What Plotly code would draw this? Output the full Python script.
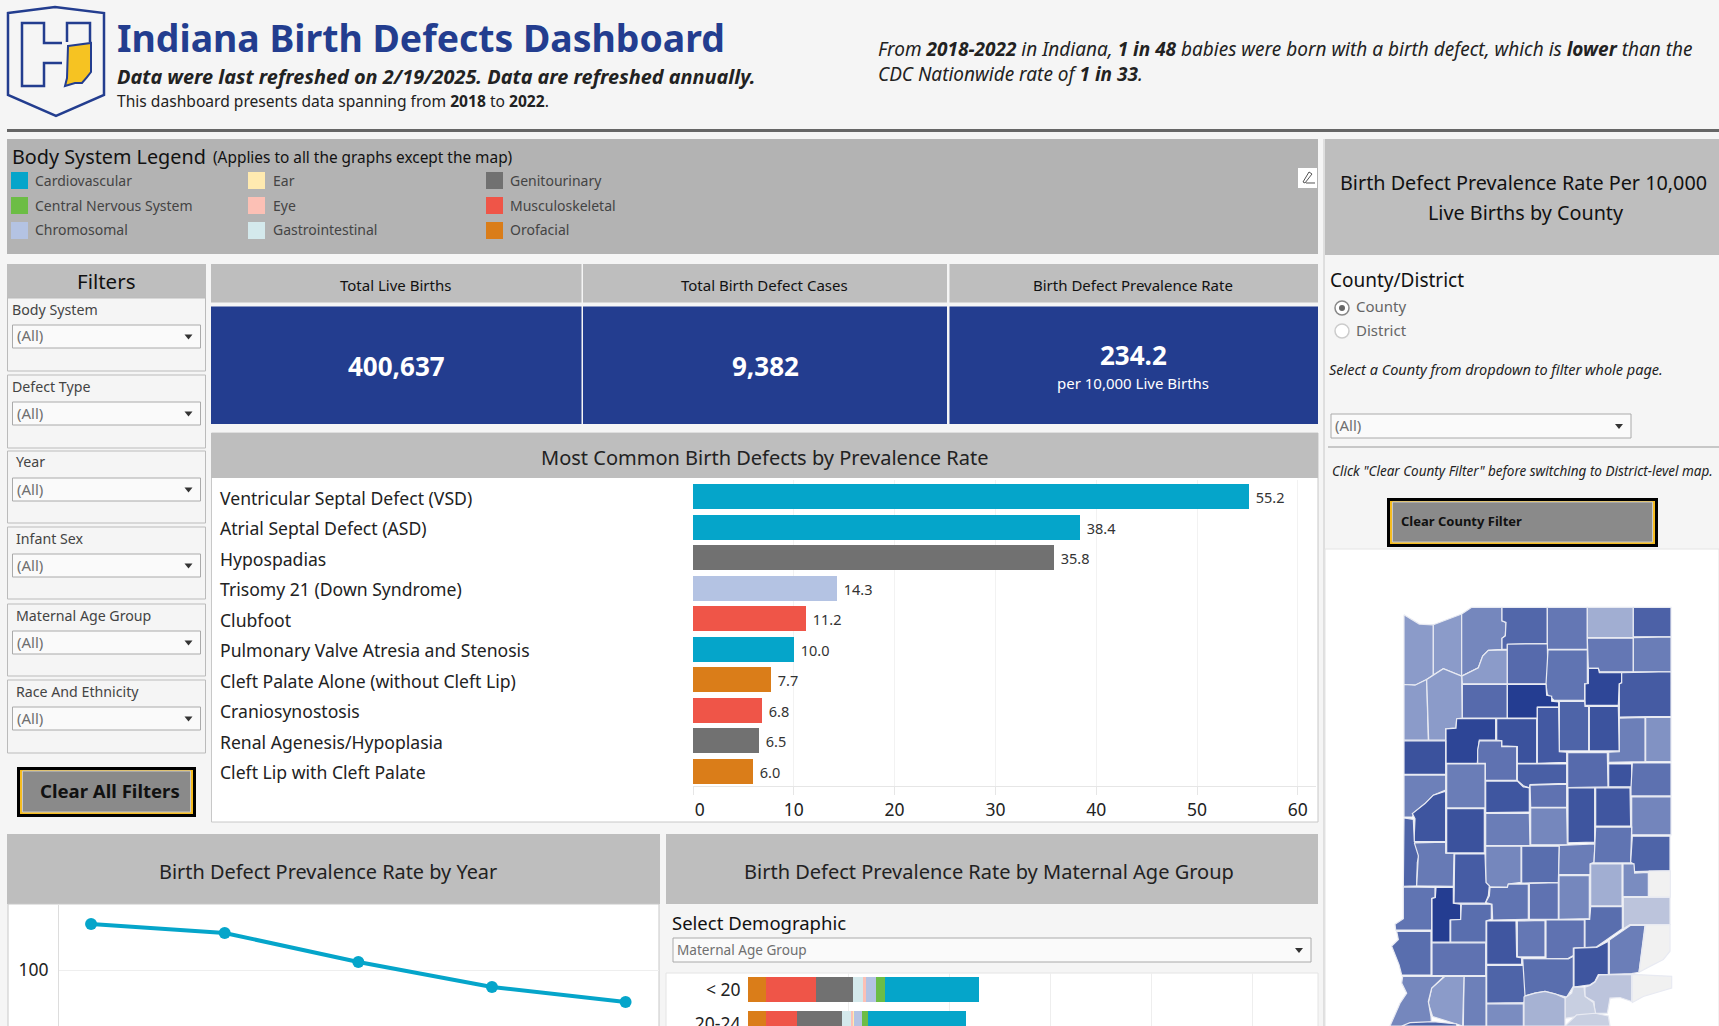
import plotly.graph_objects as go
from plotly.colors import sample_colorscale

W, H = 1719, 1026
FONT = "Noto Sans"

# Body system legend
systems = ["Cardiovascular", "Central Nervous System", "Chromosomal",
           "Ear", "Eye", "Gastrointestinal",
           "Genitourinary", "Musculoskeletal", "Orofacial"]
system_colors = ["#05a5ca", "#6cbd45", "#b4c3e3",
                 "#ffeab0", "#fcc0b5", "#d4e9ec",
                 "#717171", "#ef5548", "#da7d19"]
color_of = dict(zip(systems, system_colors))

# Most common defects
defect_names = ["Ventricular Septal Defect (VSD)", "Atrial Septal Defect (ASD)", "Hypospadias",
                "Trisomy 21 (Down Syndrome)", "Clubfoot", "Pulmonary Valve Atresia and Stenosis",
                "Cleft Palate Alone (without Cleft Lip)", "Craniosynostosis",
                "Renal Agenesis/Hypoplasia", "Cleft Lip with Cleft Palate"]
defect_rates = [55.2, 38.4, 35.8, 14.3, 11.2, 10.0, 7.7, 6.8, 6.5, 6.0]
defect_systems = ["Cardiovascular", "Cardiovascular", "Genitourinary", "Chromosomal", "Musculoskeletal",
                  "Cardiovascular", "Orofacial", "Musculoskeletal", "Genitourinary", "Orofacial"]

# Prevalence by year
years = ["2018", "2019", "2020", "2021", "2022"]
year_rates = [120.0, 116.1, 103.5, 92.6, 86.1]

# Prevalence by maternal age group, stacked left to right
age_groups = ["< 20", "20-24"]
stack_order = ["Orofacial", "Musculoskeletal", "Genitourinary", "Gastrointestinal", "Eye", "Ear",
               "Chromosomal", "Central Nervous System", "Cardiovascular"]
age_rates = {
    "Orofacial": [18, 18],
    "Musculoskeletal": [49, 31],
    "Genitourinary": [37, 44],
    "Gastrointestinal": [10, 9],
    "Eye": [3, 2.3],
    "Ear": [0.3, 0.7],
    "Chromosomal": [10, 8],
    "Central Nervous System": [8, 6],
    "Cardiovascular": [93.5, 97],
}

# County outlines (map units) and the rate read from each county's shade
county_shapes = [
    [(312,342),(358,370),(400,372),(400,522),(380,535),(345,552),(312,550)],
    [(400,372),(485,340),(485,525),(430,503),(400,522)],
    [(485,340),(515,320),(606,320),(606,360),(618,365),(616,405),(606,412),(606,445),(565,448),(548,465),(535,500),(485,525)],
    [(606,320),(742,320),(742,428),(622,430),(622,445),(606,445),(606,412),(616,405),(618,365),(606,360)],
    [(742,320),(862,320),(862,445),(742,445)],
    [(862,320),(1000,320),(1000,410),(862,410)],
    [(1000,320),(1113,320),(1113,408),(1000,408)],
    [(862,412),(1000,412),(1000,512),(898,512),(895,502),(865,502)],
    [(1000,410),(1113,408),(1113,512),(1000,512)],
    [(622,447),(622,548),(487,548),(485,525),(535,500),(548,465),(565,448)],
    [(622,430),(742,428),(744,548),(622,548)],
    [(744,447),(862,447),(862,547),(854,548),(854,597),(762,597),(742,580),(738,550)],
    [(865,502),(895,502),(898,515),(965,515),(965,545),(958,548),(955,612),(855,612),(855,548),(865,547)],
    [(965,515),(1113,512),(1113,645),(958,647),(958,548),(965,545)],
    [(312,550),(345,552),(380,535),(384,650),(385,716),(312,716)],
    [(380,535),(400,522),(430,503),(485,525),(487,650),(470,652),(468,680),(437,682),(437,716),(386,716)],
    [(487,550),(622,550),(622,650),(487,650)],
    [(622,550),(738,550),(740,582),(755,585),(755,600),(776,602),(776,617),(712,617),(712,650),(622,650)],
    [(778,600),(854,600),(855,615),(866,615),(866,748),(778,748)],
    [(868,615),(955,615),(958,748),(868,748)],
    [(958,650),(1035,648),(1035,780),(926,782),(926,752),(958,750)],
    [(1037,648),(1113,648),(1113,780),(1037,780)],
    [(712,618),(776,618),(778,750),(800,752),(800,782),(712,785)],
    [(470,652),(587,652),(587,716),(538,716),(535,740),(532,785),(438,785),(438,682),(468,680)],
    [(590,652),(710,652),(710,785),(652,785),(652,735),(605,733),(605,718),(590,716)],
    [(312,718),(437,718),(437,818),(312,818)],
    [(538,718),(605,718),(605,735),(650,735),(650,836),(556,836),(556,785),(533,785),(533,745)],
    [(652,787),(800,787),(800,845),(690,848),(688,858),(670,852),(652,836)],
    [(803,753),(922,753),(924,855),(803,857)],
    [(926,787),(995,787),(995,855),(926,855)],
    [(997,784),(1113,784),(1113,882),(993,882),(993,857)],
    [(312,820),(437,820),(437,865),(400,880),(375,905),(345,930),(337,945),(312,945)],
    [(437,868),(437,1018),(342,1018),(345,950),(337,935),(375,905),(400,880)],
    [(440,787),(555,787),(555,918),(440,918)],
    [(557,838),(652,838),(670,855),(688,858),(688,930),(557,932)],
    [(690,850),(800,847),(800,916),(692,916)],
    [(804,858),(884,858),(884,1020),(804,1022)],
    [(887,858),(990,858),(992,972),(887,972)],
    [(995,885),(1113,884),(1113,998),(995,998)],
    [(557,934),(688,934),(690,1030),(557,1030)],
    [(692,918),(800,918),(802,1028),(692,1028)],
    [(312,948),(340,952),(343,1018),(360,1050),(352,1080),(350,1150),(310,1152)],
    [(343,1022),(437,1020),(437,1053),(462,1053),(460,1152),(350,1150),(355,1060)],
    [(440,920),(553,920),(553,1052),(440,1052)],
    [(557,1032),(663,1032),(663,1140),(625,1145),(622,1155),(570,1153),(557,1142)],
    [(665,1032),(778,1032),(775,1140),(665,1142)],
    [(778,1030),(885,1025),(882,1080),(870,1085),(870,1117),(776,1117)],
    [(887,975),(995,975),(992,1082),(882,1082)],
    [(997,1002),(1110,1002),(1110,1105),(1045,1108),(1003,1108),(1000,1085),(992,1080)],
    [(464,1055),(555,1055),(558,1140),(568,1150),(565,1180),(556,1202),(462,1202)],
    [(310,1153),(405,1155),(405,1185),(395,1188),(395,1282),(287,1282),(285,1265),(310,1248)],
    [(408,1155),(460,1155),(460,1202),(482,1205),(482,1250),(450,1252),(450,1318),(396,1318),(396,1188),(406,1185)],
    [(484,1205),(574,1205),(574,1250),(558,1255),(558,1318),(452,1318),(452,1252),(482,1250)],
    [(570,1155),(622,1155),(625,1145),(685,1145),(685,1250),(578,1252),(576,1205),(557,1200),(568,1180)],
    [(688,1143),(775,1141),(775,1250),(688,1250)],
    [(777,1120),(868,1120),(868,1248),(777,1250)],
    [(872,1085),(966,1085),(966,1210),(872,1210)],
    [(969,1085),(1002,1085),(1004,1112),(1045,1110),(1045,1182),(969,1182)],
    [(1046,1106),(1111,1106),(1111,1184),(1046,1184)],
    [(970,1185),(1110,1185),(1110,1265),(990,1266),(970,1278)],
    [(872,1212),(967,1212),(967,1278),(930,1305),(890,1332),(855,1334),(855,1250),(869,1250)],
    [(738,1252),(853,1252),(853,1334),(820,1336),(820,1358),(805,1366),(738,1368)],
    [(652,1255),(735,1253),(735,1362),(652,1362)],
    [(560,1255),(648,1255),(650,1362),(665,1365),(665,1384),(560,1384)],
    [(290,1286),(393,1286),(393,1416),(305,1416),(297,1385),(285,1355),(275,1330),(295,1310)],
    [(396,1320),(557,1320),(557,1418),(396,1418)],
    [(560,1387),(677,1387),(678,1480),(672,1498),(560,1500)],
    [(668,1367),(735,1368),(805,1368),(820,1360),(820,1450),(800,1482),(765,1472),(735,1465),(705,1470),(675,1478)],
    [(822,1336),(890,1334),(925,1315),(925,1415),(895,1415),(885,1435),(870,1445),(822,1452)],
    [(928,1312),(992,1268),(1035,1268),(1017,1408),(995,1412),(928,1414)],
    [(1037,1266),(1110,1266),(1110,1345),(1090,1370),(1060,1385),(1017,1408)],
    [(997,1414),(1115,1420),(1115,1455),(1030,1480),(997,1498)],
    [(897,1416),(995,1414),(995,1495),(960,1483),(930,1485),(922,1530),(885,1530),(882,1495),(855,1480),(855,1452),(870,1447),(885,1437)],
    [(852,1452),(855,1480),(880,1498),(887,1530),(830,1540),(795,1545),(795,1485),(815,1470),(820,1452)],
    [(672,1480),(705,1470),(735,1465),(765,1472),(795,1485),(795,1568),(672,1568)],
    [(795,1568),(830,1535),(885,1530),(925,1538),(930,1568)],
    [(560,1502),(670,1502),(670,1568),(560,1568)],
    [(492,1420),(558,1420),(558,1568),(490,1568)],
    [(435,1420),(492,1420),(488,1568),(398,1540),(385,1500),(395,1455)],
    [(308,1420),(432,1420),(395,1455),(385,1495),(393,1540),(395,1568),(270,1568),(300,1500),(320,1470),(305,1440)],
    [(305,1568),(330,1558),(400,1555),(470,1562),(470,1568)],
]
county_rates = [160, 160, 194, 248, 221, 125, 258, 221, 211, 160,
                243, 227, 304, 269, 160, 160, 243, 320, 254, 282,
                208, 176, 272, 306, 285, 285, 229, 262, 243, 282,
                232, 206, 280, 211, 278, 229, 280, 277, 198, 211,
                194, 254, 216, 285, 194, 237, 211, 227, 254, 267,
                227, 320, 237, 227, 229, 194, 125, 186, 0, 83,
                237, 229, 221, 277, 237, 229, 254, 237, 280, 210,
                0, 0, 83, 64, 118, 64, 186, 206, 160, 194, 254]
rate_scale = [[0, "#f1f1f1"], [0.5, "#8b9bc9"], [1, "#243d91"]]
rate_max = 320


def fx(x):
    return x / W


def fy(y):
    return 1 - y / H


shapes = []
notes = []


def rect(x0, y0, x1, y1, fill, line=None, lw=1):
    shapes.append(dict(type="rect", xref="paper", yref="paper", layer="below",
                       x0=fx(x0), x1=fx(x1), y0=fy(y0), y1=fy(y1), fillcolor=fill,
                       line=dict(color=line or "rgba(0,0,0,0)", width=lw if line else 0)))


def path(points, fill="rgba(0,0,0,0)", line=None, lw=1, closed=True, layer="below"):
    d = "M " + " L ".join(f"{fx(x):.5f},{fy(y):.5f}" for x, y in points) + (" Z" if closed else "")
    shapes.append(dict(type="path", xref="paper", yref="paper", layer=layer, path=d, fillcolor=fill,
                       line=dict(color=line or "rgba(0,0,0,0)", width=lw if line else 0)))


def circle(cx, cy, r, fill, line=None, lw=1):
    shapes.append(dict(type="circle", xref="paper", yref="paper", layer="below",
                       x0=fx(cx - r), x1=fx(cx + r), y0=fy(cy - r), y1=fy(cy + r), fillcolor=fill,
                       line=dict(color=line or "rgba(0,0,0,0)", width=lw if line else 0)))


def label(x, y, text, size, color="#222222", anchor="left"):
    if anchor == "left":
        x -= 1
    notes.append(dict(xref="paper", yref="paper", x=fx(x), y=fy(y - 1), text=text, showarrow=False,
                      xanchor=anchor, yanchor="middle", align=anchor, borderpad=0,
                      font=dict(family=FONT, size=size, color=color)))


def dropdown(x0, y0, x1, y1, text, size=15):
    rect(x0, y0, x1, y1, "#fafafa", "#aaaaaa")
    label(x0 + 4, (y0 + y1) / 2, text, size, "#6f6f6f")
    cy = (y0 + y1) / 2
    path([(x1 - 16, cy - 2), (x1 - 8, cy - 2), (x1 - 12, cy + 3)], fill="#333333")


def button(x0, y0, x1, y1, text, size, text_x):
    rect(x0, y0, x1, y1, "#000000")
    rect(x0 + 3, y0 + 3, x1 - 3, y1 - 3, "#f6bd21")
    rect(x0 + 5.5, y0 + 4, x1 - 5.5, y1 - 5, "#8a8a8a", "#c8c8c8")
    label(text_x, (y0 + y1) / 2 - 1, f"<b>{text}</b>", size, "#111111")


# ---- header ----
path([(8, 13), (55, 7), (104, 13), (104, 95), (56, 116), (8, 95)], line="#233d8f", lw=2.5)
path([(62, 43), (44, 43), (44, 23), (22, 23), (22, 86), (44, 86), (44, 63), (62, 63)],
     line="#233d8f", lw=2.5, closed=False)
path([(67, 42), (67, 23), (90, 23), (90, 42)], line="#233d8f", lw=2.5, closed=False)
path([(68, 46), (91, 43), (91, 72), (87, 77), (82, 83), (75, 83), (65, 86), (67, 78)],
     fill="#f6c322", line="#233d8f", lw=2)
label(117, 38, "<b>Indiana Birth Defects Dashboard</b>", 37.4, "#233d8f")
label(117, 77, "<b><i>Data were last refreshed on 2/19/2025. Data are refreshed annually.</i></b>", 19.9)
label(117, 102, "This dashboard presents data spanning from <b>2018</b> to <b>2022</b>.", 15.6)
label(878, 50, "<i>From <b>2018-2022</b> in Indiana, <b>1 in 48</b> babies were born with a birth defect, which is <b>lower</b> than the</i>", 19)
label(878, 75, "<i>CDC Nationwide rate of <b>1 in 33</b>.</i>", 19)
rect(7, 129, W, 132, "#666666")

# ---- legend panel ----
rect(7, 139, 1318, 254, "#b3b3b3")
label(12, 157, "Body System Legend", 19.8, "#111111")
label(213, 158, "(Applies to all the graphs except the map)", 15.4, "#111111")
legend_cols = [(11, 34.5), (248, 272.5), (486, 510)]
legend_rows = [172, 197, 222]
for i, name in enumerate(systems):
    sx, tx = legend_cols[i // 3]
    sy = legend_rows[i % 3]
    rect(sx, sy, sx + 17, sy + 17, system_colors[i])
    label(tx, sy + 9, name, 14, "#444444")
rect(1298, 168, 1317, 188, "#ffffff")
path([(1303, 182), (1309, 172), (1312, 174), (1305, 183)], line="#555555")
path([(1306, 183), (1315, 183)], line="#555555", closed=False)

# ---- filters ----
rect(7, 264, 206, 298, "#bebebe")
label(106, 282, "Filters", 20.5, "#111111", "center")
filter_names = ["Body System", "Defect Type", "Year", "Infant Sex", "Maternal Age Group", "Race And Ethnicity"]
filter_boxes = [(298, 371), (375, 448), (451, 523), (527, 599), (604, 676), (680, 753)]
for name, (top, bottom) in zip(filter_names, filter_boxes):
    rect(7.5, top, 205.5, bottom, "#f5f5f5", "#bbbbbb")
    label(12 if top < 400 else 15.5, top + 12, name, 14.2, "#444444")
    dropdown(12.5, top + 27, 200.5, top + 50, "(All)")
button(17, 767, 196, 817, "Clear All Filters", 18.6, 40)

# ---- KPI tiles ----
kpi_edges = [(211, 581.5), (583, 947), (949.5, 1318)]
kpi_titles = ["Total Live Births", "Total Birth Defect Cases", "Birth Defect Prevalence Rate"]
for (x0, x1), title in zip(kpi_edges, kpi_titles):
    rect(x0, 264, x1, 302.5, "#bebebe")
    rect(x0, 306.5, x1, 424, "#233d8f")
    label((x0 + x1) / 2 - 1, 286, title, 15, "#111111", "center")
label(396, 367, "<b>400,637</b>", 26, "#ffffff", "center")
label(765, 367, "<b>9,382</b>", 26, "#ffffff", "center")
label(1133, 356, "<b>234.2</b>", 26, "#ffffff", "center")
label(1133, 384, "per 10,000 Live Births", 15, "#ffffff", "center")

# ---- most common defects panel ----
rect(211.5, 433, 1318, 822, "#ffffff", "#c8c8c8")
rect(211, 433, 1318, 478, "#bebebe")
label(764, 458, "Most Common Birth Defects by Prevalence Rate", 20, "#222222", "center")

# ---- right column ----
rect(1325, 139, W, 255, "#bebebe")
shapes.append(dict(type="line", xref="paper", yref="paper", layer="below", x0=fx(1324), x1=fx(1324),
                   y0=fy(139), y1=0, line=dict(color="#c8c8c8", width=1)))
label(1523, 184, "Birth Defect Prevalence Rate Per 10,000", 19.8, "#111111", "center")
label(1526, 213, "Live Births by County", 19.8, "#111111", "center")
label(1330, 281, "County/District", 19, "#111111")
circle(1342, 308, 7, "#ffffff", "#888888", 1.5)
circle(1342, 308, 3, "#666666")
circle(1342, 331, 7, "#ffffff", "#cccccc", 1.5)
label(1356, 307, "County", 15, "#666666")
label(1356, 331, "District", 15, "#666666")
label(1329, 370, "<i>Select a County from dropdown to filter whole page.</i>", 14.5)
dropdown(1331, 414, 1631, 438, "(All)")
rect(1328, 446.5, W, 447.5, "#999999")
label(1332, 472, "<i>Click \"Clear County Filter\" before switching to District-level map.</i>", 13.5)
button(1387, 498, 1658, 547, "Clear County Filter", 13, 1401)
rect(1325, 549, W, H + 5, "#ffffff", "#e4e4e4")

# ---- bottom panels ----
rect(7, 834, 660, 904, "#bebebe")
rect(8, 904, 659, H + 5, "#ffffff", "#c8c8c8")
label(328, 872, "Birth Defect Prevalence Rate by Year", 19.9, "#222222", "center")
rect(666, 834, 1318, 904, "#bebebe")
rect(666, 904, 1318, 973, "#f5f5f5")
rect(666, 973, 1318, H + 5, "#ffffff", "#e4e4e4")
label(989, 872, "Birth Defect Prevalence Rate by Maternal Age Group", 20, "#222222", "center")
label(672, 923, "Select Demographic", 18.5, "#111111")
dropdown(673, 938, 1311, 962, "Maternal Age Group", 13.6)

fig = go.Figure()

# defect bars
fig.add_trace(go.Bar(
    x=defect_rates, y=defect_names, orientation="h", xaxis="x", yaxis="y", width=0.82,
    marker=dict(color=[color_of[s] for s in defect_systems], line_width=0),
    text=defect_rates, texttemplate="\u00a0%{x:.1f}", textposition="outside", cliponaxis=False,
    textfont=dict(family=FONT, size=14.5, color="#333333"), showlegend=False,
))
for name in defect_names:
    notes.append(dict(xref="paper", yref="y", x=fx(219), y=name, text=name, showarrow=False,
                      xanchor="left", yanchor="middle", borderpad=0, yshift=-1,
                      font=dict(family=FONT, size=17.6, color="#222222")))

# year line
fig.add_trace(go.Scatter(
    x=years, y=year_rates, mode="lines+markers", xaxis="x2", yaxis="y2",
    line=dict(color="#05a5ca", width=4), marker=dict(color="#05a5ca", size=12), showlegend=False,
))

# maternal age stack
for name in stack_order:
    fig.add_trace(go.Bar(
        x=age_rates[name], y=age_groups, orientation="h", xaxis="x3", yaxis="y3", width=0.735,
        marker=dict(color=color_of[name], line_width=0), name=name, showlegend=False,
    ))

# county map
county_colors = sample_colorscale(rate_scale, [r / rate_max for r in county_rates])
for outline, rate, color in zip(county_shapes, county_rates, county_colors):
    xs = [p[0] for p in outline] + [outline[0][0]]
    ys = [p[1] for p in outline] + [outline[0][1]]
    fig.add_trace(go.Scatter(
        x=xs, y=ys, mode="lines", fill="toself", fillcolor=color, xaxis="x4", yaxis="y4",
        line=dict(color="#e8eaf2", width=1.2), hoverinfo="text", text=f"{rate}", showlegend=False,
    ))


def dom_x(x0, x1):
    return [fx(x0), fx(x1)]


def dom_y(top, bottom):
    return [fy(bottom), fy(top)]


tick_font = dict(family=FONT, size=17.5, color="#222222")
fig.update_layout(
    width=W, height=H, margin=dict(l=0, r=0, t=0, b=0), autosize=False,
    paper_bgcolor="#f5f5f5", plot_bgcolor="rgba(0,0,0,0)",
    barmode="stack", bargap=0, shapes=shapes, annotations=notes,
    font=dict(family=FONT),
    xaxis=dict(domain=dom_x(693, 1316), range=[0, 61.8], anchor="y", tickvals=[0, 10, 20, 30, 40, 50, 60],
               ticktext=["\u00a0\u00a0\u00a00", "10", "20", "30", "40", "50", "60"],
               gridcolor="#f2f2f2", showline=True, linecolor="#e6e6e6", zeroline=False, automargin=False,
               ticks="outside", ticklen=8, tickcolor="#e6e6e6", tickfont=tick_font, ticklabelstandoff=0),
    yaxis=dict(domain=dom_y(480, 786), anchor="x", type="category", categoryorder="array", automargin=False,
               categoryarray=defect_names, range=[9.476, -0.54], showticklabels=False, ticks="",
               showgrid=False, zeroline=False),
    xaxis2=dict(domain=dom_x(59, 659), anchor="y2", type="category", range=[-0.24, 4.25], automargin=False,
                showticklabels=False, showgrid=False, zeroline=False),
    yaxis2=dict(domain=dom_y(905, H), anchor="x2", range=[75.65, 128.3], tickvals=[100], automargin=False,
                gridcolor="#eeeeee", showline=True, linecolor="#dddddd", zeroline=False,
                tickfont=tick_font, ticks="outside", ticklen=6, tickcolor="rgba(0,0,0,0)"),
    xaxis3=dict(domain=dom_x(748, 1311), anchor="y3", range=[0, 558], tickvals=[100, 200, 300, 400, 500],
                gridcolor="#eeeeee", showticklabels=False, zeroline=False, automargin=False),
    yaxis3=dict(domain=dom_y(973, H), anchor="x3", type="category", categoryorder="array", automargin=False,
                categoryarray=age_groups, range=[1.0735, -0.485], showgrid=False, zeroline=False,
                tickfont=tick_font, ticks="outside", ticklen=3, tickcolor="rgba(0,0,0,0)"),
    xaxis4=dict(domain=dom_x(1300, W), anchor="y4", range=[0, 1257], visible=False, automargin=False),
    yaxis4=dict(domain=dom_y(500, H), anchor="x4", range=[1568, 0], visible=False, automargin=False),
)

fig.write_html("out.html", config=dict(displayModeBar=False),
               post_script="document.body.style.margin='0';")
